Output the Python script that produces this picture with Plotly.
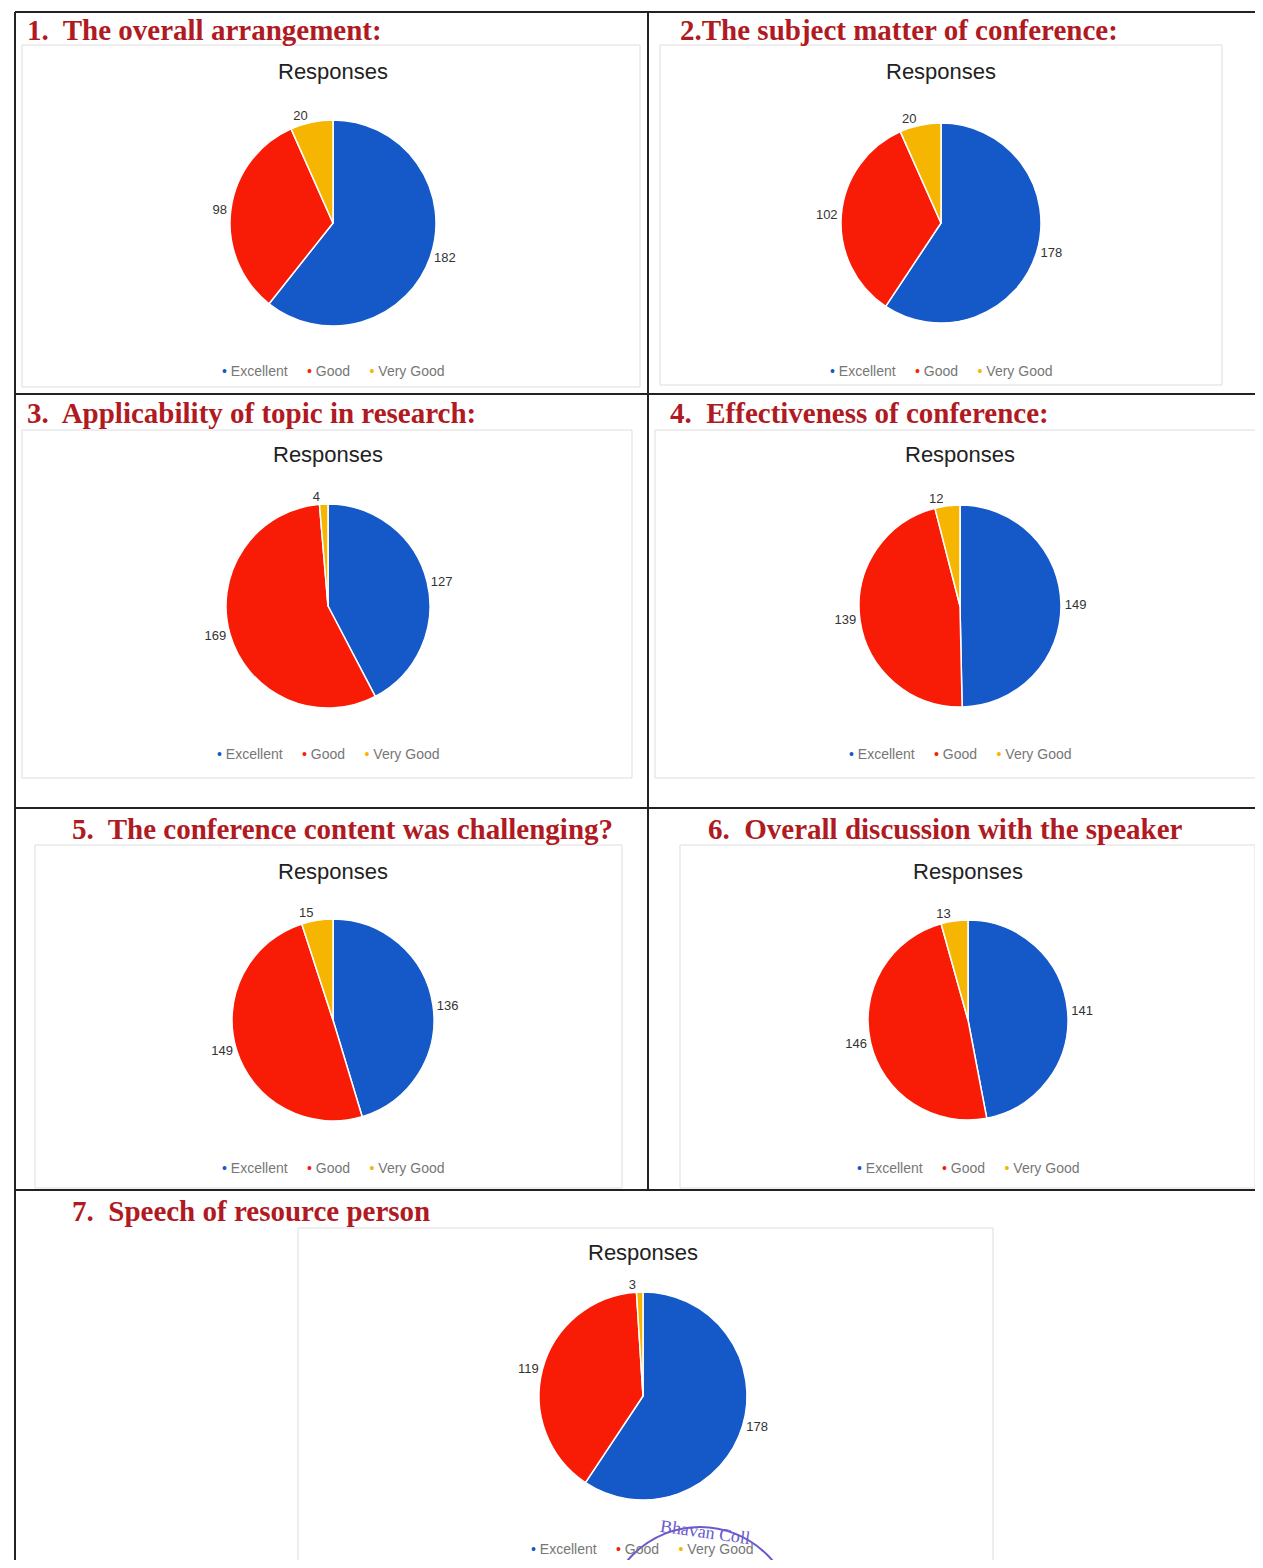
import plotly.graph_objects as go

# the page body has an 8px margin, so the figure is drawn 8px in from the window edge
W, H = 1247, 1552
OFF = 8

categories = ["Excellent", "Good", "Very Good"]
arrangement = [182, 98, 20]
subject_matter = [178, 102, 20]
applicability = [127, 169, 4]
effectiveness = [149, 139, 12]
challenging = [136, 149, 15]
discussion = [141, 146, 13]
speech = [178, 119, 3]

section_titles = [
    "1.  The overall arrangement:",
    "2.The subject matter of conference:",
    "3.  Applicability of topic in research:",
    "4.  Effectiveness of conference:",
    "5.  The conference content was challenging?",
    "6.  Overall discussion with the speaker",
    "7.  Speech of resource person",
]
series = [arrangement, subject_matter, applicability, effectiveness,
          challenging, discussion, speech]

colors = ["#1558c8", "#f81c06", "#f6b500"]


def px(x):
    return (x - OFF) / W


def py(y):
    return 1 - (y - OFF) / H


# per panel: pie centre, radius, chart-title y, legend y, section title x/y, chart box
panels = [
    dict(cx=333, cy=223, r=103, ty=72, ly=371, hx=25, hy=30, box=(22, 45, 640, 387)),
    dict(cx=941, cy=223, r=100, ty=72, ly=371, hx=678, hy=30, box=(660, 45, 1222, 385)),
    dict(cx=328, cy=606, r=102, ty=455, ly=754, hx=25, hy=413, box=(22, 430, 632, 778)),
    dict(cx=960, cy=606, r=101, ty=455, ly=754, hx=668, hy=413, box=(655, 430, 1261, 778)),
    dict(cx=333, cy=1020, r=101, ty=871, ly=1168, hx=70, hy=829, box=(35, 845, 622, 1188)),
    dict(cx=968, cy=1020, r=100, ty=871, ly=1168, hx=706, hy=829, box=(680, 845, 1255, 1188)),
    dict(cx=643, cy=1396, r=104, ty=1252, ly=1549, hx=70, hy=1211, box=(298, 1228, 993, 1575)),
]

fig = go.Figure()
annotations = []
shapes = []

legend_text = "     ".join(
    f"<span style='color:{c}'>•</span> {name}" for c, name in zip(colors, categories)
)

for vals, p, title in zip(series, panels, section_titles):
    cx, cy, r = p["cx"], p["cy"], p["r"]
    fig.add_trace(go.Pie(
        labels=categories, values=vals, sort=False,
        direction="clockwise", rotation=0,
        marker=dict(colors=colors, line=dict(color="white", width=1.5)),
        textinfo="value", textposition="outside",
        textfont=dict(size=13, color="#333", family="Liberation Sans"),
        domain=dict(x=[px(cx - r), px(cx + r)], y=[py(cy + r), py(cy - r)]),
        showlegend=False, hoverinfo="label+value+percent",
    ))
    annotations.append(dict(
        text=legend_text, x=px(cx), y=py(p["ly"]), xref="paper", yref="paper",
        showarrow=False, xanchor="center", yanchor="middle",
        font=dict(size=14, color="#777", family="Liberation Sans"),
    ))
    annotations.append(dict(
        text="Responses", x=px(cx), y=py(p["ty"]), xref="paper", yref="paper",
        showarrow=False, xanchor="center", yanchor="middle",
        font=dict(size=22, color="#222", family="Liberation Sans"),
    ))
    annotations.append(dict(
        text=f"<b>{title}</b>", x=px(p["hx"]), y=py(p["hy"]),
        xref="paper", yref="paper", showarrow=False, xanchor="left", yanchor="middle",
        font=dict(size=29, color="#b01a22", family="Liberation Serif"),
    ))
    x0, y0, x1, y1 = p["box"]
    shapes.append(dict(type="rect", xref="paper", yref="paper",
                       x0=px(x0), x1=px(x1), y0=py(y1), y1=py(y0),
                       line=dict(color="#dddddd", width=1)))


# table rules of the scanned page
def hline(y, x0=15, x1=1262, w=2):
    shapes.append(dict(type="line", xref="paper", yref="paper",
                       x0=px(x0), x1=px(x1), y0=py(y), y1=py(y),
                       line=dict(color="#222", width=w)))


def vline(x, y0, y1, w=2):
    shapes.append(dict(type="line", xref="paper", yref="paper",
                       x0=px(x), x1=px(x), y0=py(y0), y1=py(y1),
                       line=dict(color="#222", width=w)))


hline(12)
hline(394)
hline(808)
hline(1190)
vline(15, 12, 1570)
vline(648, 12, 1190)

# partial college seal at the bottom edge
shapes.append(dict(type="circle", xref="paper", yref="paper",
                   x0=px(605), x1=px(795), y0=py(1717), y1=py(1527),
                   line=dict(color="#6a5acd", width=2)))
annotations.append(dict(text="Bhavan Coll", x=px(705), y=py(1550),
                        xref="paper", yref="paper", showarrow=False,
                        font=dict(size=18, color="#6a5acd", family="Liberation Serif"),
                        textangle=8))

fig.update_layout(
    width=W, height=H, margin=dict(l=0, r=0, t=0, b=0),
    paper_bgcolor="white", plot_bgcolor="white",
    annotations=annotations, shapes=shapes,
)

fig.write_html("out.html")
